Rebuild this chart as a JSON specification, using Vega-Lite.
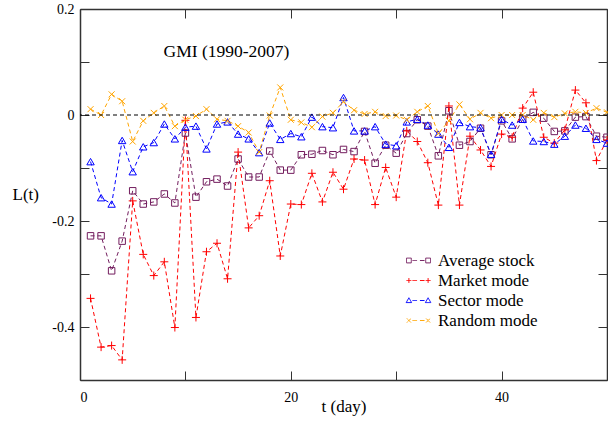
{
  "$schema": "https://vega.github.io/schema/vega-lite/v6.json",
  "width": 527,
  "height": 371,
  "autosize": {"type": "none"},
  "padding": {"left": 80, "top": 9, "right": 1, "bottom": 50},
  "background": "white",
  "config": {
    "view": {"stroke": null},
    "font": "Liberation Serif",
    "axis": {"grid": false, "domainColor": "#333", "domainWidth": 1.5, "tickColor": "#333", "tickWidth": 1, "labelColor": "black", "titleColor": "black", "labelFont": "Liberation Serif", "titleFont": "Liberation Serif", "labelFontSize": 14, "titleFontSize": 17, "titleFontWeight": "normal"},
    "legend": {"labelFont": "Liberation Serif", "labelFontSize": 17, "labelColor": "black"}
  },
  "data": {"values": [
    {"t":1,"Average stock":-0.228,"Market mode":-0.346,"Sector mode":-0.088,"Random mode":0.011},
    {"t":2,"Average stock":-0.228,"Market mode":-0.438,"Sector mode":-0.156,"Random mode":0.000},
    {"t":3,"Average stock":-0.294,"Market mode":-0.435,"Sector mode":-0.168,"Random mode":0.039},
    {"t":4,"Average stock":-0.238,"Market mode":-0.462,"Sector mode":-0.048,"Random mode":0.026},
    {"t":5,"Average stock":-0.143,"Market mode":-0.162,"Sector mode":-0.107,"Random mode":-0.050},
    {"t":6,"Average stock":-0.168,"Market mode":-0.263,"Sector mode":-0.060,"Random mode":-0.011},
    {"t":7,"Average stock":-0.164,"Market mode":-0.303,"Sector mode":-0.052,"Random mode":0.004},
    {"t":8,"Average stock":-0.149,"Market mode":-0.277,"Sector mode":-0.017,"Random mode":0.017},
    {"t":9,"Average stock":-0.166,"Market mode":-0.401,"Sector mode":-0.045,"Random mode":-0.021},
    {"t":10,"Average stock":-0.034,"Market mode":-0.010,"Sector mode":-0.023,"Random mode":-0.009},
    {"t":11,"Average stock":-0.155,"Market mode":-0.382,"Sector mode":-0.021,"Random mode":-0.002},
    {"t":12,"Average stock":-0.126,"Market mode":-0.258,"Sector mode":-0.064,"Random mode":0.011},
    {"t":13,"Average stock":-0.121,"Market mode":-0.242,"Sector mode":-0.017,"Random mode":-0.008},
    {"t":14,"Average stock":-0.134,"Market mode":-0.309,"Sector mode":-0.013,"Random mode":-0.011},
    {"t":15,"Average stock":-0.083,"Market mode":-0.070,"Sector mode":-0.036,"Random mode":-0.021},
    {"t":16,"Average stock":-0.117,"Market mode":-0.213,"Sector mode":-0.045,"Random mode":-0.033},
    {"t":17,"Average stock":-0.117,"Market mode":-0.190,"Sector mode":-0.071,"Random mode":-0.070},
    {"t":18,"Average stock":-0.068,"Market mode":-0.124,"Sector mode":-0.015,"Random mode":-0.001},
    {"t":19,"Average stock":-0.104,"Market mode":-0.266,"Sector mode":-0.046,"Random mode":0.052},
    {"t":20,"Average stock":-0.104,"Market mode":-0.168,"Sector mode":-0.035,"Random mode":-0.009},
    {"t":21,"Average stock":-0.075,"Market mode":-0.169,"Sector mode":-0.041,"Random mode":-0.014},
    {"t":22,"Average stock":-0.074,"Market mode":-0.110,"Sector mode":-0.004,"Random mode":-0.023},
    {"t":23,"Average stock":-0.067,"Market mode":-0.164,"Sector mode":-0.022,"Random mode":-0.003},
    {"t":24,"Average stock":-0.075,"Market mode":-0.108,"Sector mode":-0.024,"Random mode":0.004},
    {"t":25,"Average stock":-0.065,"Market mode":-0.140,"Sector mode":0.033,"Random mode":0.025},
    {"t":26,"Average stock":-0.069,"Market mode":-0.083,"Sector mode":-0.030,"Random mode":0.009},
    {"t":27,"Average stock":-0.031,"Market mode":-0.085,"Sector mode":-0.030,"Random mode":0.002},
    {"t":28,"Average stock":-0.091,"Market mode":-0.169,"Sector mode":-0.022,"Random mode":0.006},
    {"t":29,"Average stock":-0.057,"Market mode":-0.099,"Sector mode":-0.055,"Random mode":-0.002},
    {"t":30,"Average stock":-0.072,"Market mode":-0.155,"Sector mode":-0.058,"Random mode":-0.001},
    {"t":31,"Average stock":-0.035,"Market mode":-0.030,"Sector mode":-0.013,"Random mode":-0.009},
    {"t":32,"Average stock":-0.009,"Market mode":-0.050,"Sector mode":-0.008,"Random mode":0.006},
    {"t":33,"Average stock":-0.021,"Market mode":-0.090,"Sector mode":-0.019,"Random mode":0.017},
    {"t":34,"Average stock":-0.077,"Market mode":-0.170,"Sector mode":-0.036,"Random mode":-0.035},
    {"t":35,"Average stock":0.008,"Market mode":0.017,"Sector mode":-0.061,"Random mode":-0.011},
    {"t":36,"Average stock":-0.057,"Market mode":-0.170,"Sector mode":-0.014,"Random mode":0.020},
    {"t":37,"Average stock":-0.050,"Market mode":-0.040,"Sector mode":-0.022,"Random mode":-0.008},
    {"t":38,"Average stock":-0.025,"Market mode":-0.066,"Sector mode":-0.024,"Random mode":0.004},
    {"t":39,"Average stock":-0.075,"Market mode":-0.097,"Sector mode":-0.074,"Random mode":-0.006},
    {"t":40,"Average stock":-0.011,"Market mode":-0.036,"Sector mode":-0.008,"Random mode":0.000},
    {"t":41,"Average stock":-0.045,"Market mode":-0.042,"Sector mode":-0.019,"Random mode":0.000},
    {"t":42,"Average stock":-0.008,"Market mode":0.013,"Sector mode":-0.008,"Random mode":0.000},
    {"t":43,"Average stock":0.005,"Market mode":0.043,"Sector mode":-0.049,"Random mode":-0.009},
    {"t":44,"Average stock":-0.006,"Market mode":-0.042,"Sector mode":-0.050,"Random mode":0.004},
    {"t":45,"Average stock":-0.031,"Market mode":-0.053,"Sector mode":-0.055,"Random mode":-0.004},
    {"t":46,"Average stock":-0.030,"Market mode":-0.028,"Sector mode":-0.040,"Random mode":0.003},
    {"t":47,"Average stock":-0.004,"Market mode":0.047,"Sector mode":-0.019,"Random mode":0.006},
    {"t":48,"Average stock":-0.003,"Market mode":0.023,"Sector mode":-0.025,"Random mode":0.004},
    {"t":49,"Average stock":-0.040,"Market mode":-0.086,"Sector mode":-0.046,"Random mode":0.013},
    {"t":50,"Average stock":-0.042,"Market mode":-0.047,"Sector mode":-0.053,"Random mode":0.005}
  ]},
  "layer": [
    {
      "transform": [{"fold": ["Average stock", "Market mode", "Sector mode", "Random mode"], "as": ["s", "v"]}],
      "mark": {"type": "line", "strokeDash": [4, 3], "strokeWidth": 1},
      "encoding": {
        "x": {"field": "t", "type": "quantitative", "scale": {"domain": [0, 50], "nice": false, "zero": false},
          "axis": {"values": [0, 10, 20, 30, 40, 50], "labelExpr": "datum.value % 20 === 0 ? datum.label : ''", "tickSize": -9, "labelPadding": 19, "title": "t (day)", "titleY": 31, "titleBaseline": "alphabetic",
            "encode": {"ticks": {"update": {"y2": {"signal": "datum.value % 20 === 0 ? -9 : -5"}}}}}},
        "y": {"field": "v", "type": "quantitative", "scale": {"domain": [-0.5, 0.2], "nice": false, "zero": false},
          "axis": {"values": [-0.5, -0.4, -0.3, -0.2, -0.1, 0, 0.1, 0.2], "labelExpr": "round(datum.value*10) % 2 === 0 && datum.value > -0.45 ? (datum.value === 0 ? '0' : (datum.value < 0 ? '-' : '') + format(abs(datum.value), '.1f')) : ''", "tickSize": -9, "labelPadding": 15, "title": "L(t)", "titleAngle": 0, "titleAlign": "left", "titleX": -68, "titleY": 190, "titleBaseline": "alphabetic",
            "encode": {"ticks": {"update": {"x2": {"signal": "round(datum.value*10) % 2 === 0 ? 9 : 5"}}}}}},
        "color": {"field": "s", "type": "nominal", "scale": {"domain": ["Average stock", "Market mode", "Sector mode", "Random mode"], "range": ["#731d5e", "#ff0000", "#0000ff", "#ffa500"]},
          "legend": {"orient": "none", "legendX": 330, "legendY": 243, "title": null, "labelFont": "Liberation Serif", "labelFontSize": 17, "labelColor": "black", "labelLimit": 300, "symbolSize": 256, "symbolStrokeWidth": 1, "symbolDash": [1, 0], "labelOffset": 11, "rowPadding": 2,
            "encode": {
              "symbols": {"update": {"shape": {"signal": "datum.value === 'Average stock' ? 'M-1.5,-0.3H-0.9V0.3H-1.5ZM0.9,-0.3H1.5V0.3H0.9ZM-0.75,0H-0.18M0.18,0H0.75' : datum.value === 'Market mode' ? 'M-1.5,0H-0.9M-1.2,-0.3V0.3M0.9,0H1.5M1.2,-0.3V0.3M-0.75,0H-0.18M0.18,0H0.75' : datum.value === 'Sector mode' ? 'M-1.2,-0.34L-0.86,0.26H-1.54ZM1.2,-0.34L1.54,0.26H0.86ZM-0.75,0H-0.18M0.18,0H0.75' : 'M-1.45,-0.25L-0.95,0.25M-1.45,0.25L-0.95,-0.25M0.95,-0.25L1.45,0.25M0.95,0.25L1.45,-0.25M-0.75,0H-0.18M0.18,0H0.75'"}}}}}}
      }
    },
    {
      "mark": {"type": "point", "filled": false, "strokeWidth": 1, "opacity": 1, "shape": "square", "size": 42, "color": "#731d5e"},
      "encoding": {
        "x": {"field": "t", "type": "quantitative", "axis": null},
        "y": {"field": "Average stock", "type": "quantitative", "axis": null}
      }
    },
    {
      "mark": {"type": "point", "filled": false, "strokeWidth": 1, "opacity": 1, "shape": "M-1,0H1M0,-1V1", "size": 64, "color": "#ff0000"},
      "encoding": {
        "x": {"field": "t", "type": "quantitative", "axis": null},
        "y": {"field": "Market mode", "type": "quantitative", "axis": null}
      }
    },
    {
      "mark": {"type": "point", "filled": false, "strokeWidth": 1, "opacity": 1, "shape": "triangle-up", "size": 55, "color": "#0000ff"},
      "encoding": {
        "x": {"field": "t", "type": "quantitative", "axis": null},
        "y": {"field": "Sector mode", "type": "quantitative", "axis": null}
      }
    },
    {
      "mark": {"type": "point", "filled": false, "strokeWidth": 1, "opacity": 1, "shape": "M-1,-1L1,1M-1,1L1,-1", "size": 36, "color": "#ffa500"},
      "encoding": {
        "x": {"field": "t", "type": "quantitative", "axis": null},
        "y": {"field": "Random mode", "type": "quantitative", "axis": null}
      }
    },
    {
      "data": {"values": [{"z": 0}]},
      "mark": {"type": "rule", "strokeDash": [4, 3], "color": "black", "strokeWidth": 1},
      "encoding": {"y": {"field": "z", "type": "quantitative", "axis": null}}
    },
    {
      "data": {"values": [{"label": "GMI (1990-2007)", "tx": 13.9, "ty": 0.119}]},
      "mark": {"type": "text", "font": "Liberation Serif", "fontSize": 17.5, "fill": "black", "baseline": "middle", "align": "center"},
      "encoding": {
        "x": {"field": "tx", "type": "quantitative", "axis": {"orient": "top", "values": [0, 10, 20, 30, 40, 50], "labels": false, "title": null, "tickSize": -9,
          "encode": {"ticks": {"update": {"y2": {"signal": "datum.value % 20 === 0 ? 9 : 5"}}}}}},
        "y": {"field": "ty", "type": "quantitative", "axis": {"orient": "right", "values": [-0.5, -0.4, -0.3, -0.2, -0.1, 0, 0.1, 0.2], "labels": false, "title": null, "tickSize": -9,
          "encode": {"ticks": {"update": {"x2": {"signal": "round(datum.value*10) % 2 === 0 ? -9 : -5"}}}}}},
        "text": {"field": "label", "type": "nominal"}
      }
    }
  ],
  "resolve": {"axis": {"x": "independent", "y": "independent"}}
}
